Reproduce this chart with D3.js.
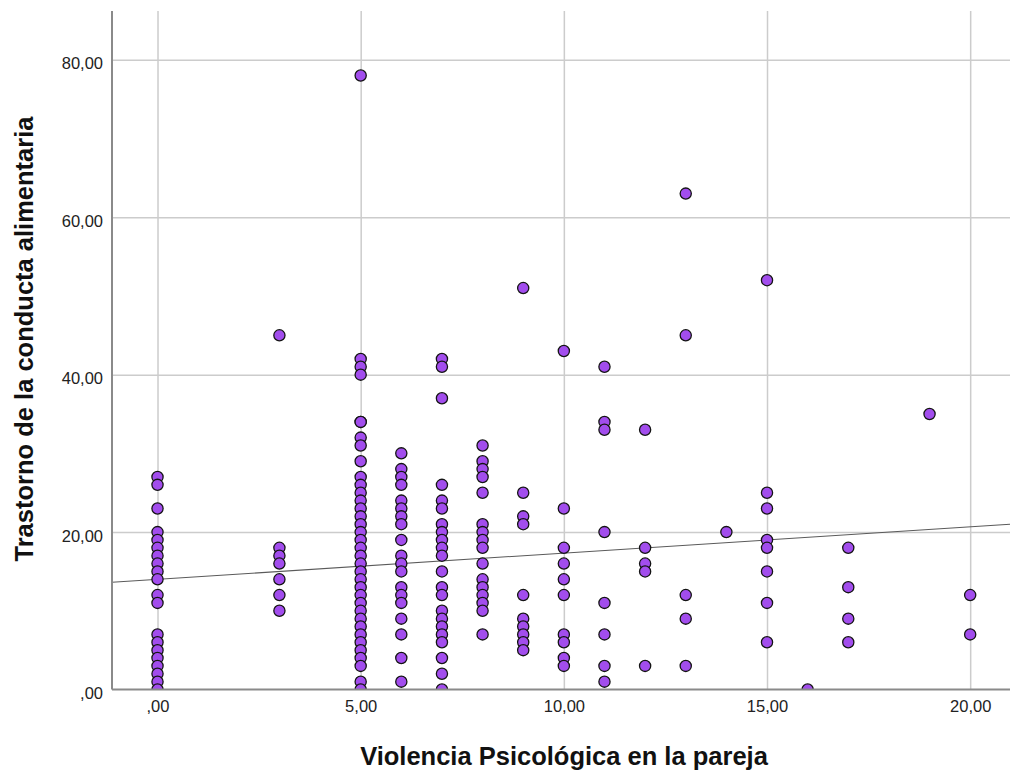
<!DOCTYPE html>
<meta charset="utf-8">
<script src="https://d3js.org/d3.v7.min.js"></script>

<style>
    body { margin: 0; background: #fff; }
    .tick text { font-family: "Liberation Sans", Arial, sans-serif; font-size: 16.5px; fill: #222; }
    .grid line { stroke: #cccccc; stroke-width: 1.5px; }
    .grid path { display: none; }
    .title { font-family: "Liberation Sans", Arial, sans-serif; font-size: 25.5px; font-weight: bold; fill: #111; }
</style>

<body>
</body>

<script>
    // Values, one array per x level (Violencia Psicologica)
    var xLevels = [0, 3, 5, 6, 7, 8, 9, 10, 11, 12, 13, 14, 15, 16, 17, 19, 20];
    var tca00 = [27, 26, 23, 20, 19, 18, 17, 16, 15, 14, 12, 11, 7, 6, 5, 4, 3, 2, 1, 0];
    var tca03 = [45, 18, 17, 16, 14, 12, 10];
    var tca05 = [78, 42, 41, 40, 34, 34, 32, 31, 29, 27, 26, 25, 24, 23, 22, 21, 20, 19, 18, 17, 16, 15, 14, 13, 12, 11, 10, 9, 8, 7, 6, 5, 4, 3, 1, 0];
    var tca06 = [30, 28, 27, 26, 24, 23, 22, 21, 19, 17, 16, 15, 13, 12, 11, 9, 7, 4, 1];
    var tca07 = [42, 41, 37, 26, 24, 23, 21, 20, 19, 18, 17, 15, 13, 12, 10, 9, 8, 7, 6, 4, 2, 0];
    var tca08 = [31, 29, 28, 27, 25, 21, 20, 19, 18, 16, 14, 13, 12, 11, 10, 7];
    var tca09 = [51, 25, 22, 21, 12, 9, 8, 7, 6, 5];
    var tca10 = [43, 23, 18, 16, 14, 12, 7, 6, 4, 3];
    var tca11 = [41, 34, 33, 20, 11, 7, 3, 1];
    var tca12 = [33, 18, 16, 15, 3];
    var tca13 = [63, 45, 12, 9, 3];
    var tca14 = [20];
    var tca15 = [52, 25, 23, 19, 18, 15, 11, 6];
    var tca16 = [0];
    var tca17 = [18, 13, 9, 6];
    var tca19 = [35];
    var tca20 = [12, 7];
    var yByLevel = [tca00, tca03, tca05, tca06, tca07, tca08, tca09, tca10, tca11,
                    tca12, tca13, tca14, tca15, tca16, tca17, tca19, tca20];

    // linear fit line
    var fitIntercept = 14.0;
    var fitSlope = 0.333;

    var xTicks = [0, 5, 10, 15, 20];
    var xTickLabels = [",00", "5,00", "10,00", "15,00", "20,00"];
    var yTicks = [0, 20, 40, 60, 80];
    var yTickLabels = [",00", "20,00", "40,00", "60,00", "80,00"];

    var xTitle = "Violencia Psicológica en la pareja";
    var yTitle = "Trastorno de la conducta alimentaria";

    // build point list
    var points = [];
    xLevels.forEach(function(xv, i) {
        yByLevel[i].forEach(function(yv) { points.push({x: xv, y: yv}); });
    });

    var W = 1010, H = 774;
    var plot = {left: 112, right: 1010, top: 11, bottom: 689.5};

    var svg = d3.select("body").append("svg")
        .attr("width", W)
        .attr("height", H);

    var x = d3.scaleLinear().domain([-1.12, 20.98]).range([plot.left, plot.right]);
    var y = d3.scaleLinear().domain([0, 86.2]).range([plot.bottom, plot.top]);

    // gridlines
    svg.append("g")
        .attr("class", "grid")
        .attr("transform", "translate(0," + plot.bottom + ")")
        .call(d3.axisBottom(x).tickValues(xTicks).tickSize(-(plot.bottom - plot.top)).tickFormat(""));
    svg.append("g")
        .attr("class", "grid")
        .attr("transform", "translate(" + plot.left + ",0)")
        .call(d3.axisLeft(y).tickValues(yTicks.slice(1)).tickSize(-(plot.right - plot.left)).tickFormat(""));

    // tick labels
    var xAxis = svg.append("g")
        .attr("transform", "translate(0," + plot.bottom + ")")
        .call(d3.axisBottom(x).tickValues(xTicks).tickSize(0).tickPadding(11)
              .tickFormat(function(d, i) { return xTickLabels[i]; }));
    xAxis.select(".domain").remove();

    var yAxis = svg.append("g")
        .attr("transform", "translate(" + plot.left + ",0)")
        .call(d3.axisLeft(y).tickValues(yTicks).tickSize(0).tickPadding(9)
              .tickFormat(function(d, i) { return yTickLabels[i]; }));
    yAxis.select(".domain").remove();
    yAxis.selectAll(".tick text").attr("dy", "0.55em");

    // clip for the plot
    svg.append("clipPath").attr("id", "clip")
        .append("rect")
        .attr("x", plot.left).attr("y", plot.top)
        .attr("width", plot.right - plot.left)
        .attr("height", plot.bottom - plot.top);

    var inner = svg.append("g").attr("clip-path", "url(#clip)");

    // fit line
    var xd = x.domain();
    inner.append("line")
        .attr("x1", x(xd[0])).attr("y1", y(fitIntercept + fitSlope * xd[0]))
        .attr("x2", x(xd[1])).attr("y2", y(fitIntercept + fitSlope * xd[1]))
        .attr("stroke", "#5a5a5a")
        .attr("stroke-width", 1.1);

    // points
    inner.selectAll("circle")
        .data(points)
        .enter()
        .append("circle")
        .attr("cx", function(d) { return x(d.x); })
        .attr("cy", function(d) { return y(d.y); })
        .attr("r", 5.6)
        .attr("fill", "#a24ded")
        .attr("stroke", "#141414")
        .attr("stroke-width", 1.3);

    // axis lines
    svg.append("line")
        .attr("x1", plot.left).attr("x2", plot.left)
        .attr("y1", plot.top).attr("y2", plot.bottom)
        .attr("stroke", "#8a8a8a").attr("stroke-width", 2);
    svg.append("line")
        .attr("x1", plot.left).attr("x2", plot.right)
        .attr("y1", plot.bottom).attr("y2", plot.bottom)
        .attr("stroke", "#8a8a8a").attr("stroke-width", 2);

    // titles
    svg.append("text")
        .attr("class", "title")
        .attr("x", 564).attr("y", 765)
        .attr("text-anchor", "middle")
        .text(xTitle);
    svg.append("text")
        .attr("class", "title")
        .attr("transform", "translate(33,339) rotate(-90)")
        .attr("text-anchor", "middle")
        .text(yTitle);
</script>
